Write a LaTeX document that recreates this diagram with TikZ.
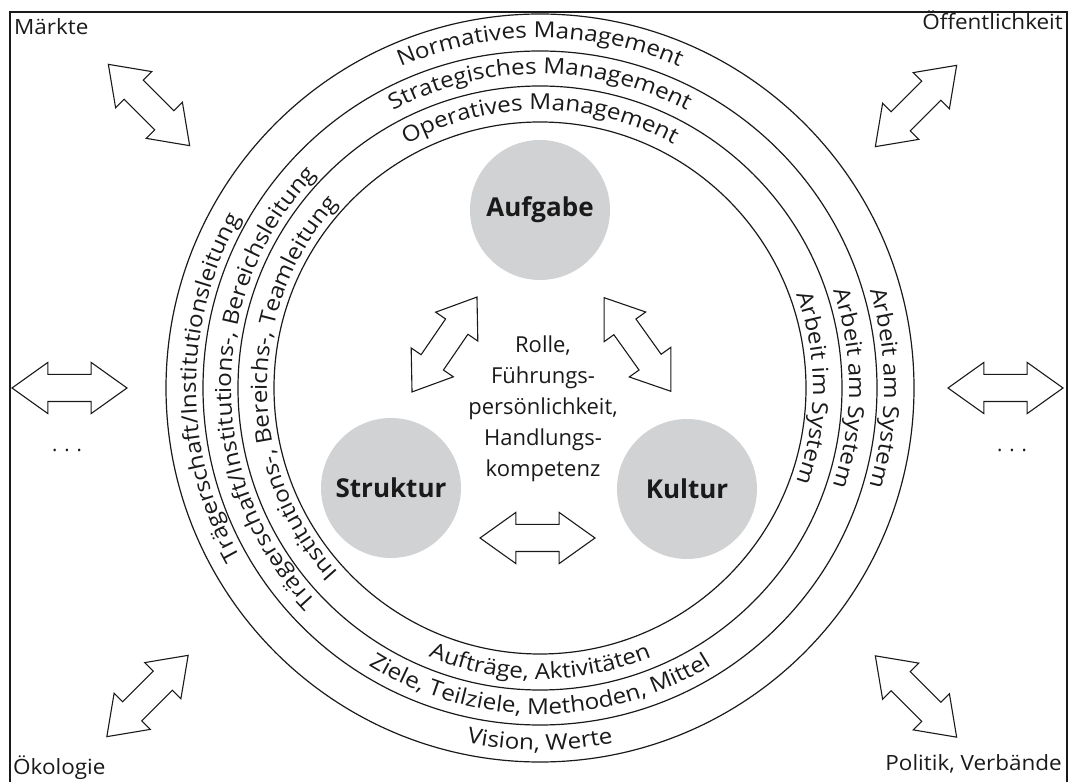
\documentclass[tikz,border=0pt]{standalone}
\usepackage{fontspec}
\setmainfont{Open Sans}
\newfontfamily\ringFont[FakeStretch=1.1]{Open Sans}
\newfontfamily\cornerFont[FakeStretch=1.07]{Open Sans}
\usepackage{xcolor}
\usetikzlibrary{shapes.arrows,decorations.text}
\definecolor{ink}{HTML}{1A1A1A}
\definecolor{disc}{HTML}{D1D2D4}
\newcommand{\ringStyle}{\ringFont\fontsize{22}{26}\selectfont}
\tikzset{
  frameLine/.style={draw=ink, line width=1.5pt},
  ringLine/.style={draw=ink, line width=1.2pt},
  dblArrow/.style={double arrow, draw=ink, fill=white, line width=1.1pt,
    inner xsep=0pt, inner ysep=13pt,
    minimum height=115pt, minimum width=50pt, double arrow head extend=12pt,
    double arrow tip angle=71},
  topicDisc/.style={circle, fill=disc, minimum size=140pt, inner sep=0pt,
    font=\fontsize{26}{30}\selectfont\bfseries, text=ink},
  cornerLab/.style={font=\cornerFont\fontsize{21}{25}\selectfont, text=ink, inner sep=0pt},
  centerLab/.style={font=\fontsize{22}{31}\selectfont, text=ink, align=center, inner sep=0pt},
  dotsLab/.style={font=\fontsize{20}{24}\selectfont, text=ink, inner sep=0pt},
  ringText/.style={decorate, decoration={text along path, text align=center,
    text={|\ringStyle\color{ink}|#1}}}
}

\begin{document}
\begin{tikzpicture}[x=1pt, y=1pt]
  \useasboundingbox (0,0) rectangle (1076,782);
  \coordinate (C) at (540,394);

  \draw[frameLine] (10,0) -- (10,770) -- (1067,770) -- (1067,0);

  % rings
  \draw[ringLine] (C) circle[radius=374];
  \draw[ringLine] (C) circle[radius=337];
  \draw[ringLine] (C) circle[radius=302];
  \draw[ringLine] (C) circle[radius=266];

  % top
  \path[ringText={Normatives Management}] (C) ++(165:350) arc[start angle=165, end angle=15, radius=350];
  \path[ringText={Strategisches Management}] (C) ++(165:314) arc[start angle=165, end angle=15, radius=314];
  \path[ringText={Operatives Management}] (C) ++(165:278) arc[start angle=165, end angle=15, radius=278];
  % left
  \path[ringText={Trägerschaft/Institutionsleitung}] (C) ++(235:344) arc[start angle=235, end angle=125, radius=344];
  \path[ringText={Trägerschaft/Institutions-, Bereichsleitung}] (C) ++(235:309) arc[start angle=235, end angle=125, radius=309];
  \path[ringText={Institutions-, Bereichs-, Teamleitung}] (C) ++(235:273) arc[start angle=235, end angle=125, radius=273];
  % right
  \path[ringText={Arbeit am System}] (C) ++(55:344) arc[start angle=55, end angle=-55, radius=344];
  \path[ringText={Arbeit am System}] (C) ++(55:309) arc[start angle=55, end angle=-55, radius=309];
  \path[ringText={Arbeit im System}] (C) ++(55:273) arc[start angle=55, end angle=-55, radius=273];
  % bottom
  \path[ringText={Vision, Werte}] (C) ++(195:362) arc[start angle=195, end angle=345, radius=362];
  \path[ringText={Ziele, Teilziele, Methoden, Mittel}] (C) ++(195:326) arc[start angle=195, end angle=345, radius=326];
  \path[ringText={Aufträge, Aktivitäten}] (C) ++(195:291) arc[start angle=195, end angle=345, radius=291];

  % discs
  \node[topicDisc] (aufgabe) at (540,572) {Aufgabe};
  \node[topicDisc] (struktur) at (391,294) {Struktur};
  \node[topicDisc] (kultur) at (687,293) {Kultur};
  \node[centerLab] (rolle) at (543,373) {Rolle,\\Führungs-\\persönlichkeit,\\Handlungs-\\kompetenz};

  % inner arrows
  \node[dblArrow, rotate=55.6] (auStArrow) at (444.5,437.5) {};
  \node[dblArrow, rotate=-54.5] (auKuArrow) at (637.5,437.5) {};
  \node[dblArrow] (stKuArrow) at (537.5,244) {};

  % outer arrows
  \node[dblArrow, rotate=-45] (maerkteArrow) at (149,677) {};
  \node[dblArrow, rotate=45] (oeffArrow) at (916,676) {};
  \node[dblArrow, rotate=45] (oekoArrow) at (147.5,86) {};
  \node[dblArrow, rotate=-45] (politikArrow) at (916,85.5) {};
  \node[dblArrow] (leftArrow) at (69.5,394) {};
  \node[dblArrow] (rightArrow) at (1005.5,394) {};

  \node[cornerLab, anchor=base west] (maerkte) at (14,747) {Märkte};
  \node[cornerLab, anchor=base east] (oeff) at (1063,752) {Öffentlichkeit};
  \node[cornerLab, anchor=base west] (oeko) at (13,8) {Ökologie};
  \node[cornerLab, anchor=base east] (politik) at (1062,12) {Politik, Verbände};
  \node[dotsLab] (leftDots) at (67,332) {. . .};
  \node[dotsLab] (rightDots) at (1012,332) {. . .};
\end{tikzpicture}
\end{document}
